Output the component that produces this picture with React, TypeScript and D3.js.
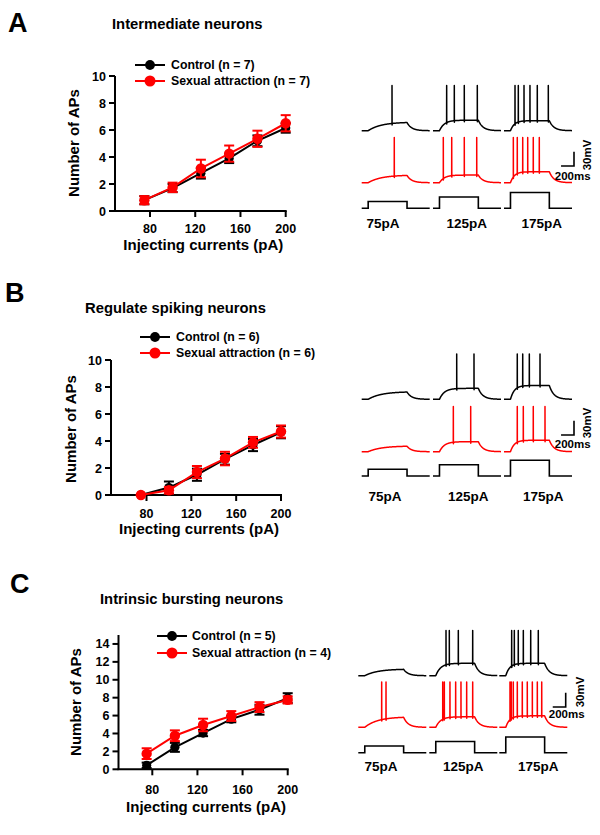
import React from 'react';
import * as d3 from 'd3';

// ---------- data ----------
const currents = [75, 100, 125, 150, 175, 200];
const xTicks = [80, 120, 160, 200];
const yTicksAB = [0, 2, 4, 6, 8, 10];
const yTicksC = [0, 2, 4, 6, 8, 10, 12, 14];

const ctrlA = [0.8, 1.7, 2.8, 3.9, 5.2, 6.15];
const ctrlAErr = [0.3, 0.3, 0.4, 0.35, 0.4, 0.35];
const sexA = [0.8, 1.75, 3.15, 4.25, 5.35, 6.5];
const sexAErr = [0.3, 0.35, 0.65, 0.6, 0.6, 0.6];

const ctrlB = [0, 0.55, 1.5, 2.65, 3.7, 4.65];
const ctrlBErr = [0, 0.45, 0.45, 0.4, 0.45, 0.45];
const sexB = [0, 0.35, 1.7, 2.7, 3.9, 4.7];
const sexBErr = [0, 0.25, 0.45, 0.5, 0.4, 0.45];

const ctrlC = [0.45, 2.45, 4.05, 5.6, 6.65, 7.95];
const ctrlCErr = [0.3, 0.5, 0.35, 0.35, 0.55, 0.55];
const sexC = [1.75, 3.75, 4.95, 5.95, 6.95, 7.75];
const sexCErr = [0.6, 0.6, 0.7, 0.55, 0.55, 0.4];

const titles = ['Intermediate neurons', 'Regulate spiking neurons', 'Intrinsic bursting neurons'];
const letters = ['A', 'B', 'C'];
const nCtrl = [7, 6, 5];
const nSex = [7, 6, 4];

// example traces: injected step currents, spike times (ms), plateau depolarisation (mV)
const stimCurrents = [75, 125, 175];
const stimLabels = ['75pA', '125pA', '175pA'];
const spikesACtrl = [[468], [211, 329, 483, 684], [170, 221, 309, 401, 514, 684]];
const spikesASex = [[503], [159, 289, 483, 675], [144, 205, 289, 366, 452, 545]];
const spikesBCtrl = [[], [366, 633], [205, 289, 391, 556]];
const spikesBSex = [[], [314, 582], [205, 298, 452, 633]];
const spikesCCtrl = [[], [258, 309, 448, 670], [191, 232, 293, 371, 485, 602]];
const spikesCSex = [[361, 428], [207, 232, 319, 407, 489, 577, 670], [165, 185, 216, 278, 355, 432, 510, 587, 655]];
const depACtrl = [18, 22, 21];
const depASex = [16, 16, 23];
const depBCtrl = [16, 23, 29];
const depBSex = [12, 21, 24];
const depCCtrl = [14, 26, 26];
const depCSex = [22, 22, 24];
const riseTau = [200, 75, 60];

const REST = -70;
const PEAK = 25;
const SWEEP = 1050;
const ON = 100;
const OFF = 700;
const DECAY = 70;

// ---------- layout ----------
const FONT = "'Liberation Sans', Arial, Helvetica, sans-serif";
const RED = '#ff0000';
const BLACK = '#000000';

const chartLayout = [
  { axisX: 115, x80: 150, x200: 285.7, y0: 211, yTop: 76, yMax: 10, yTicks: yTicksAB, tickY: 232.5, xLabY: 250, yLab: [73, 143], leg: [65, 81], legX: [135, 165], legText: 171, title: [112, 29.3], letter: [8, 32] },
  { axisX: 111, x80: 146.5, x200: 281, y0: 495, yTop: 360, yMax: 10, yTicks: yTicksAB, tickY: 517.5, xLabY: 534, yLab: [70, 429], leg: [337, 353], legX: [140, 170], legText: 176, title: [85, 313.3], letter: [5, 302] },
  { axisX: 118.5, x80: 152.3, x200: 287.7, y0: 769.3, yTop: 635, yMax: 15, yTicks: yTicksC, tickY: 793.5, xLabY: 812, yLab: [75, 702], leg: [636, 653], legX: [157, 187], legText: 192, title: [100, 604], letter: [10, 593] },
];

const traceLayout = [
  { segs: [361.7, 433, 504], baseCtrl: 130.7, baseSex: 182.7, stimBase: 208.3, labelY: 227.5, labelX: [383, 466.7, 541.7], bar: [574, 166], mvText: [587, 155], msText: [572.7, 180] },
  { segs: [361.7, 433, 504], baseCtrl: 399.3, baseSex: 451.7, stimBase: 476, labelY: 501, labelX: [385, 468.3, 543.3], bar: [574, 435], mvText: [587, 423], msText: [572.7, 447.5] },
  { segs: [358.3, 429.3, 499.3], baseCtrl: 675.7, baseSex: 727.3, stimBase: 752.7, labelY: 771, labelX: [381, 463.3, 538.3], bar: [565.7, 707], mvText: [580, 692], msText: [566.7, 718] },
];

const chartData = [
  { ctrl: ctrlA, ctrlErr: ctrlAErr, sex: sexA, sexErr: sexAErr },
  { ctrl: ctrlB, ctrlErr: ctrlBErr, sex: sexB, sexErr: sexBErr },
  { ctrl: ctrlC, ctrlErr: ctrlCErr, sex: sexC, sexErr: sexCErr },
];
const traceData = [
  { sc: spikesACtrl, ss: spikesASex, dc: depACtrl, ds: depASex },
  { sc: spikesBCtrl, ss: spikesBSex, dc: depBCtrl, ds: depBSex },
  { sc: spikesCCtrl, ss: spikesCSex, dc: depCCtrl, ds: depCSex },
];

const MV_PX = 0.477; // px per mV
const SEG_W = 68; // px per sweep
const PA_PX = 0.09; // px per pA

function membrane(spikes: number[], dep: number, tau: number): [number, number][] {
  const v0 = (t: number) => {
    if (t < ON) return REST;
    if (t <= OFF) return REST + dep * (1 - Math.exp(-(t - ON) / tau));
    const vOff = dep * (1 - Math.exp(-(OFF - ON) / tau));
    return REST + vOff * Math.exp(-(t - OFF) / DECAY);
  };
  const pts: { t: number; v: number }[] = d3.range(0, SWEEP + 1, 3).map((t) => ({ t, v: v0(t) }));
  spikes.forEach((s) => {
    pts.push({ t: s - 0.8, v: v0(s) });
    pts.push({ t: s, v: PEAK });
    pts.push({ t: s + 1.2, v: v0(s) - 3 });
  });
  pts.sort((a, b) => a.t - b.t);
  return pts.map((p) => [p.t, p.v]);
}

function Chart({ i }: { i: number }) {
  const L = chartLayout[i];
  const D = chartData[i];
  const x = d3.scaleLinear().domain([80, 200]).range([L.x80, L.x200]);
  const y = d3.scaleLinear().domain([0, L.yMax]).range([L.y0, L.yTop]);
  const line = d3.line<number>().x((_, k) => x(currents[k])).y((d) => y(d));
  const series = [
    { vals: D.ctrl, err: D.ctrlErr, color: BLACK, r: 4.6 },
    { vals: D.sex, err: D.sexErr, color: RED, r: 5.2 },
  ];
  return (
    <g fontFamily={FONT} fontWeight="bold">
      <text x={L.letter[0]} y={L.letter[1]} fontSize={27}>{letters[i]}</text>
      <text x={L.title[0]} y={L.title[1]} fontSize={14.8}>{titles[i]}</text>
      {/* axes */}
      <line x1={L.axisX} x2={L.axisX} y1={y(0)} y2={y(L.yMax)} stroke={BLACK} strokeWidth={2} />
      <line x1={L.axisX - 1} x2={x(200) + 1} y1={y(0)} y2={y(0)} stroke={BLACK} strokeWidth={2} />
      {L.yTicks.map((t) => (
        <g key={'y' + t}>
          <line x1={L.axisX - 6} x2={L.axisX} y1={y(t)} y2={y(t)} stroke={BLACK} strokeWidth={2} />
          <text x={L.axisX - 9} y={y(t) + 4.5} fontSize={12.5} textAnchor="end">{t}</text>
        </g>
      ))}
      {xTicks.map((t) => (
        <g key={'x' + t}>
          <line x1={x(t)} x2={x(t)} y1={y(0)} y2={y(0) + 6} stroke={BLACK} strokeWidth={2} />
          <text x={x(t)} y={L.tickY} fontSize={12.5} textAnchor="middle">{t}</text>
        </g>
      ))}
      <text x={(L.axisX + x(200)) / 2 + 3} y={L.xLabY} fontSize={15} textAnchor="middle">Injecting currents (pA)</text>
      <text transform={`translate(${L.yLab[0]},${L.yLab[1]}) rotate(-90)`} fontSize={15} textAnchor="middle" dominantBaseline="central">Number of APs</text>
      {/* data */}
      {series.map((s, si) => (
        <g key={si}>
          <path d={line(s.vals) || ''} fill="none" stroke={s.color} strokeWidth={2} />
          {s.vals.map((v, k) => (
            <g key={k} stroke={s.color} strokeWidth={2}>
              <line x1={x(currents[k])} x2={x(currents[k])} y1={y(v - s.err[k])} y2={y(v + s.err[k])} />
              <line x1={x(currents[k]) - 5} x2={x(currents[k]) + 5} y1={y(v + s.err[k])} y2={y(v + s.err[k])} />
              <line x1={x(currents[k]) - 5} x2={x(currents[k]) + 5} y1={y(v - s.err[k])} y2={y(v - s.err[k])} />
            </g>
          ))}
          {s.vals.map((v, k) => (
            <circle key={'c' + k} cx={x(currents[k])} cy={y(v)} r={s.r} fill={s.color} />
          ))}
        </g>
      ))}
      {/* legend */}
      {series.map((s, si) => (
        <g key={'l' + si}>
          <line x1={L.legX[0]} x2={L.legX[1]} y1={L.leg[si]} y2={L.leg[si]} stroke={s.color} strokeWidth={2} />
          <circle cx={(L.legX[0] + L.legX[1]) / 2} cy={L.leg[si]} r={s.r + 0.3} fill={s.color} />
          <text x={L.legText} y={L.leg[si] + 4.3} fontSize={12.3}>
            {si === 0 ? `Control (n = ${nCtrl[i]})` : `Sexual attraction (n = ${nSex[i]})`}
          </text>
        </g>
      ))}
    </g>
  );
}

function Traces({ i }: { i: number }) {
  const L = traceLayout[i];
  const T = traceData[i];
  const rows = [
    { spikes: T.sc, dep: T.dc, base: L.baseCtrl, color: BLACK },
    { spikes: T.ss, dep: T.ds, base: L.baseSex, color: RED },
  ];
  return (
    <g>
      {stimCurrents.map((c, j) => {
        const xs = d3.scaleLinear().domain([0, SWEEP]).range([L.segs[j], L.segs[j] + SEG_W]);
        const stimY = d3.scaleLinear().domain([0, 1]).range([L.stimBase, L.stimBase - PA_PX]);
        const stim: [number, number][] = [[0, 0], [ON, 0], [ON, c], [OFF, c], [OFF, 0], [SWEEP, 0]];
        const stimLine = d3.line<[number, number]>().x((d) => xs(d[0])).y((d) => stimY(d[1]));
        return (
          <g key={j}>
            {rows.map((r, ri) => {
              const ys = d3.scaleLinear().domain([REST, REST + 1]).range([r.base, r.base - MV_PX]);
              const ln = d3.line<[number, number]>().x((d) => xs(d[0])).y((d) => ys(d[1]));
              return <path key={ri} d={ln(membrane(r.spikes[j], r.dep[j], riseTau[j])) || ''} fill="none" stroke={r.color} strokeWidth={1.5} strokeLinejoin="round" />;
            })}
            <path d={stimLine(stim) || ''} fill="none" stroke={BLACK} strokeWidth={1.6} />
            <text x={L.labelX[j]} y={L.labelY} fontFamily={FONT} fontWeight="bold" fontSize={13.5} textAnchor="middle">{stimLabels[j]}</text>
          </g>
        );
      })}
      {/* scale bar: 30 mV, 200 ms */}
      <path d={`M${L.bar[0] - (200 / SWEEP) * SEG_W},${L.bar[1]}H${L.bar[0]}V${L.bar[1] - 30 * MV_PX}`} fill="none" stroke={BLACK} strokeWidth={1.6} />
      <text transform={`translate(${L.mvText[0]},${L.mvText[1]}) rotate(-90)`} fontFamily={FONT} fontWeight="bold" fontSize={11.5} textAnchor="middle" dominantBaseline="central">30mV</text>
      <text x={L.msText[0]} y={L.msText[1]} fontFamily={FONT} fontWeight="bold" fontSize={11.5} textAnchor="middle">200ms</text>
    </g>
  );
}

export default function App() {
  return (
    <svg width={600} height={835} viewBox="0 0 600 835" style={{ position: 'absolute', left: 0, top: 0, background: '#fff' }}>
      <rect width={600} height={835} fill="#fff" />
      {[0, 1, 2].map((i) => (
        <g key={i}>
          <Chart i={i} />
          <Traces i={i} />
        </g>
      ))}
    </svg>
  );
}
